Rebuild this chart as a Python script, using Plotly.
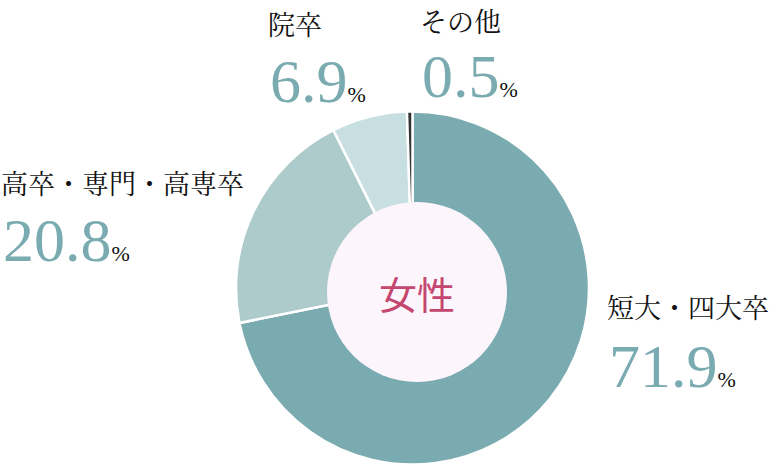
import plotly.graph_objects as go

W, H = 770, 468

labels = ["短大・四大卒", "高卒・専門・高専卒", "院卒", "その他"]
values = [71.9, 20.8, 6.9, 0.5]
colors = ["#7aabb1", "#aecbcc", "#c8dfe2", "#333333"]
center_label = "女性"

# label anchor points in pixels (left edge of label, y of label / number centre)
label_pos = [(606, 306, 366), (0, 183, 240), (267, 23, 81), (419, 21, 76)]


def px(x, y):
    return x / W, 1 - y / H


fig = go.Figure()

cx, cy, r = 412.5, 288, 176.5
x0, y0 = px(cx - r, cy + r)
x1, y1 = px(cx + r, cy - r)
fig.add_trace(go.Pie(
    labels=labels, values=values, sort=False, direction="clockwise", rotation=0,
    hole=0.46, textinfo="none", hoverinfo="label+percent",
    marker=dict(colors=colors, line=dict(color="white", width=2.5)),
    domain=dict(x=[x0, x1], y=[y0, y1]), showlegend=False,
))

# inner pink disc
hx, hy, hr = 417, 292, 90
a0, b0 = px(hx - hr, hy + hr)
a1, b1 = px(hx + hr, hy - hr)
fig.add_shape(type="circle", xref="paper", yref="paper", x0=a0, y0=b0, x1=a1, y1=b1,
              fillcolor="#fdf5fc", line=dict(width=0))

annotations = []
cxp, cyp = px(hx, hy)
annotations.append(dict(x=cxp, y=cyp, text=center_label, showarrow=False,
                        font=dict(family="Noto Sans CJK JP", size=38, color="#c4476f"),
                        xanchor="center", yanchor="middle"))

for lab, val, (lx, ly, ny) in zip(labels, values, label_pos):
    ax, ay = px(lx, ly)
    annotations.append(dict(x=ax, y=ay, text=lab, showarrow=False, borderpad=0,
                            font=dict(family="Noto Serif CJK JP, Noto Sans CJK JP", size=27, color="#111111"),
                            xanchor="left", yanchor="middle"))
    nx_, ny_ = px(lx + 1, ny)
    num = f"<span style='font-size:62px;color:#7aabb1'>{val:.1f}</span><span style='font-size:22px;color:#111111'>%</span>"
    annotations.append(dict(x=nx_, y=ny_, text=num, showarrow=False,
                            font=dict(family="Liberation Serif", size=62, color="#7aabb1"),
                            xanchor="left", yanchor="middle"))

fig.update_layout(
    width=W, height=H, margin=dict(l=0, r=0, t=0, b=0),
    paper_bgcolor="white", plot_bgcolor="white",
    annotations=annotations,
)

# drop the default page margin so the figure sits at the window's corner
fig.write_html("out.html", config={"displayModeBar": False},
               post_script="document.body.style.margin='0';")
